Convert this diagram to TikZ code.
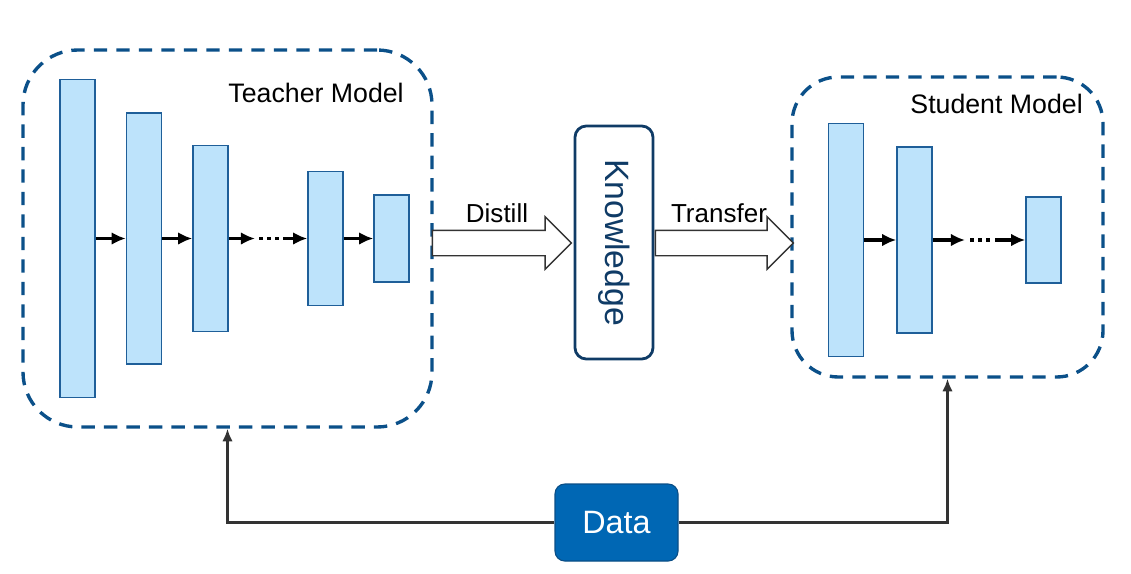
\documentclass[tikz,border=0pt]{standalone}
\usepackage{fontspec}
\setmainfont{Liberation Sans}
\usepackage{tikz}
\usetikzlibrary{arrows,arrows.meta,shapes.arrows}
\usepackage{xcolor}
\definecolor{layerfill}{HTML}{BDE3FB}
\definecolor{layerline}{HTML}{1F5F99}
\definecolor{modelline}{HTML}{0B5089}
\definecolor{knowline}{HTML}{0F3B66}
\definecolor{datafill}{HTML}{0067B4}
\definecolor{dataline}{HTML}{0A4E86}
\definecolor{linkgray}{HTML}{333333}
\newcommand{\pxu}{0.025cm}

\begin{document}
\begin{tikzpicture}[x=0.025cm, y=-0.025cm,
    model/.style={draw=modelline, line width=2.4pt, dash pattern=on 9.5pt off 6.5pt, inner sep=0pt},
    layer/.style={draw=layerline, fill=layerfill, line width=1.1pt, minimum width=35*\pxu, inner sep=0pt},
    flow/.style={line width=2.4pt, -{Latex[length=10pt,width=9pt]}},
    dots/.style={line width=2.6pt, dash pattern=on 2.8pt off 3pt},
    blockarrow/.style={single arrow, draw=linkgray, fill=white, line width=1pt, inner sep=12*\pxu,
      single arrow head extend=13.5*\pxu, shape border rotate=0},
    title/.style={inner sep=0pt, font=\fontsize{19pt}{22pt}\selectfont},
    tag/.style={font=\fontsize{18.5pt}{22pt}\selectfont},
    know/.style={draw=knowline, line width=2pt, rounded corners=8pt, text=knowline, inner sep=0pt,
      font=\fontsize{24pt}{28pt}\selectfont},
    datanode/.style={fill=datafill, draw=dataline, line width=0.8pt, rounded corners=7pt, text=white,
      font=\fontsize{23pt}{27pt}\selectfont},
    feed/.style={draw=linkgray, line width=1.8pt, -{Latex[length=9pt,width=7.5pt]}}]
  \useasboundingbox (0,0) rectangle (1131,573);

  % teacher
  \node[model, rounded corners=39pt, minimum width=409*\pxu, minimum height=377*\pxu] (teacher) at (227.5,238.5) {};
  \node[title, anchor=base east] (tname) at (404,102) {Teacher Model};
  \foreach \x/\h [count=\i] in {77.5/318,144/251,210.5/186,325.5/134,391.5/87}
    \node[layer, minimum height=\h*\pxu] (t\i) at (\x,238.5) {};
  \foreach \a/\b in {t1/t2,t2/t3,t4/t5}
    \draw[flow] (\a.east) -- (\b.west);
  \coordinate (tgap1) at (255,238.5);
  \coordinate (tgap2) at (283,238.5);
  \draw[flow] (t3.east) -- (tgap1);
  \draw[dots] (tgap1) ++(4,0) -- ++(22,0);
  \draw[flow] (tgap2) -- (t4.west);

  % student
  \node[model, rounded corners=33pt, minimum width=311*\pxu, minimum height=300*\pxu] (student) at (947.5,227) {};
  \node[title, anchor=base east] (sname) at (1083,113) {Student Model};
  \foreach \x/\h [count=\i] in {846/233,914.5/186,1043.5/86}
    \node[layer, minimum height=\h*\pxu] (s\i) at (\x,240) {};
  \draw[flow] (s1.east) -- (s2.west);
  \coordinate (sgap1) at (965,240);
  \coordinate (sgap2) at (995,240);
  \draw[flow] (s2.east) -- (sgap1);
  \draw[dots] (sgap1) ++(5,0) -- ++(21,0);
  \draw[flow] (sgap2) -- (s3.west);

  % knowledge
  \node[know, rotate=-90, minimum width=233*\pxu, minimum height=78*\pxu] (know) at (614,242.5) {Knowledge};
  \node[blockarrow, minimum height=139*\pxu] (distill) at (495.5,243) {};
  \node[tag, anchor=base] (distilltxt) at (497,222) {Distill};
  \node[blockarrow, minimum height=138*\pxu] (transfer) at (718,243) {};
  \node[tag, anchor=base] (transfertxt) at (719,222) {Transfer};

  % data
  \node[datanode, minimum width=123*\pxu, minimum height=77*\pxu] (data) at (616.5,522.5) {Data};
  \draw[feed] (data.west) -| (teacher.south);
  \draw[feed] (data.east) -| (student.south);
\end{tikzpicture}
\end{document}
